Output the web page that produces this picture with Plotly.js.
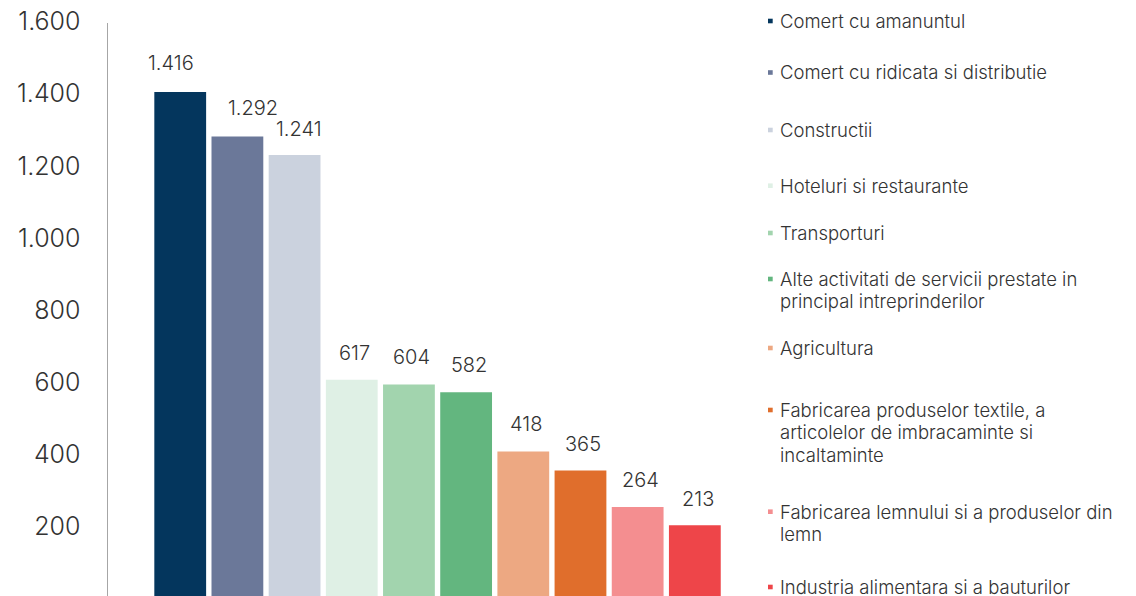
<!DOCTYPE html>
<html>
<head>
<meta charset="utf-8">
<script src="https://cdn.plot.ly/plotly-3.0.1.min.js"></script>
<style>
html,body{margin:0;padding:0;background:#fff;overflow:hidden;}
#chart{width:1136px;height:602px;}
</style>
</head>
<body>
<div id="chart"></div>
<script>
// ---- data ----
const categories = [
  "Comert cu amanuntul",
  "Comert cu ridicata si distributie",
  "Constructii",
  "Hoteluri si restaurante",
  "Transporturi",
  "Alte activitati de servicii prestate in principal intreprinderilor",
  "Agricultura",
  "Fabricarea produselor textile, a articolelor de imbracaminte si incaltaminte",
  "Fabricarea lemnului si a produselor din lemn",
  "Industria alimentara si a bauturilor"
];
const values = [1416, 1292, 1241, 617, 604, 582, 418, 365, 264, 213];
const colors = ["#04365d", "#6b7899", "#cbd2de", "#dff0e5", "#a2d4ae",
                "#63b67f", "#eda882", "#e06e2c", "#f48e90", "#ee4549"];
const yTickVals = [200, 400, 600, 800, 1000, 1200, 1400, 1600];
const yTickText = ["200", "400", "600", "800", "1.000", "1.200", "1.400", "1.600"];

// ---- layout helpers ----
const W = 1136, H = 602;
const M = {l: 108, r: 376, t: 23, b: 0};
const PW = W - M.l - M.r, PH = H - M.t - M.b;
const px2x = p => (p - M.l) / PW;
const py2y = p => (H - M.b - p) / PH;
const FONT = "Inter, 'Open Sans', sans-serif";
const WEIGHT = 300;
const TXT = "#333333";

function fmt(v) { return String(v).replace(/\B(?=(\d{3})+(?!\d))/g, "."); }
function wrap(s, n) {
  const words = s.split(" "); const lines = []; let cur = "";
  words.forEach(w => {
    if (cur && (cur + " " + w).length > n) { lines.push(cur); cur = w; }
    else cur = cur ? cur + " " + w : w;
  });
  if (cur) lines.push(cur);
  return lines;
}

const traces = categories.map((c, i) => ({
  type: "bar",
  x: [c],
  y: [values[i]],
  name: c,
  marker: {color: colors[i], line: {width: 0}},
  hoverinfo: "x+y"
}));

// value labels (offsets match the reference's placement)
const labelDx = [-9, 16, 4, 3, 3, 3, 3, 3, 3, 3];
const labelDy = [29, 29, 26, 27, 27, 27, 27, 27, 27, 26];
const annotations = categories.map((c, i) => ({
  x: c, y: values[i], xref: "x", yref: "y",
  text: fmt(values[i]), showarrow: false,
  xanchor: "center", yanchor: "middle",
  xshift: labelDx[i], yshift: labelDy[i],
  font: {family: FONT, size: 20, color: TXT, weight: WEIGHT}
}));

// legend drawn as text beside the plot
const legendFirstLine = [21, 72.5, 130, 185.7, 233, 279, 348, 410, 511.7, 587];
const FS = 18.5;
const LS = 22.3;
const shapes = [];
categories.forEach((c, i) => {
  const lines = wrap(c, 39);
  lines.forEach((ln, k) => {
    annotations.push({
      xref: "paper", yref: "paper",
      x: px2x(778), y: py2y(legendFirstLine[i] + k * LS),
      xanchor: "left", yanchor: "middle", align: "left",
      text: ln, showarrow: false,
      font: {family: FONT, size: FS, color: TXT, weight: WEIGHT}
    });
  });
  shapes.push({
    type: "rect", xref: "paper", yref: "paper",
    x0: px2x(768), x1: px2x(772.7),
    y0: py2y(legendFirstLine[i] + 2.3), y1: py2y(legendFirstLine[i] - 2.3),
    fillcolor: colors[i], line: {width: 0}
  });
});

const layout = {
  width: W, height: H,
  margin: M,
  paper_bgcolor: "#ffffff", plot_bgcolor: "#ffffff",
  showlegend: false,
  barmode: "overlay",
  bargap: 0.094,
  font: {family: FONT, color: TXT, weight: WEIGHT},
  xaxis: {
    type: "category", range: [-1.263, -1.263 + PW / 57.18],
    showticklabels: false, showline: false, showgrid: false, zeroline: false, ticks: ""
  },
  yaxis: {
    range: [0, 1607.4],
    tickvals: yTickVals, ticktext: yTickText,
    ticks: "", showgrid: false, zeroline: false,
    showline: true, linecolor: "#a6a6a6", linewidth: 1.5,
    tickfont: {family: FONT, size: 25, color: TXT, weight: WEIGHT},
    ticklabelstandoff: 21, ticklabelshift: -4
  },
  annotations: annotations,
  shapes: shapes
};

Plotly.newPlot("chart", traces, layout, {displayModeBar: false, staticPlot: true});
</script>
</body>
</html>
